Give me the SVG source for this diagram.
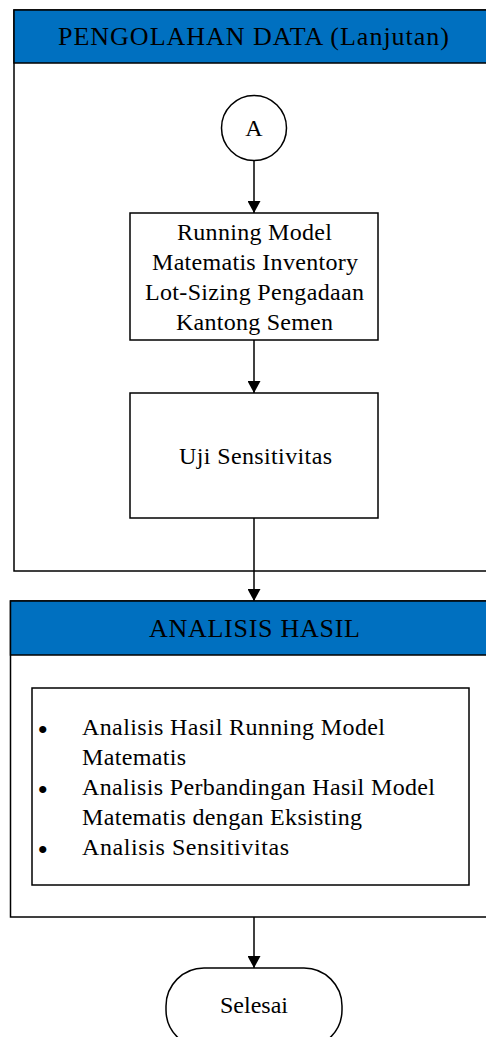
<svg xmlns="http://www.w3.org/2000/svg" width="486" height="1037" viewBox="0 0 486 1037">
  <style>
    .frame { fill: #ffffff; stroke: #000000; stroke-width: 1.5; }
    .band { fill: #0070C0; stroke: #000000; stroke-width: 1.5; }
    .box { fill: #ffffff; stroke: #000000; stroke-width: 1.5; }
    .t { font-family: "Liberation Serif", "Times New Roman", serif; fill: #000000; }
    .title { font-size: 26px; text-anchor: middle; }
    .lbl { font-size: 24px; text-anchor: middle; }
    .item { font-size: 24px; }
    .bullet { font-size: 30px; }
    .conn { stroke: #000000; stroke-width: 1.5; fill: none; marker-end: url(#arrow); }
  </style>
  <defs>
    <marker id="arrow" viewBox="0 0 12 13" refX="12" refY="6.5" markerWidth="12" markerHeight="13" markerUnits="userSpaceOnUse" orient="auto">
      <path d="M0,0 L12,6.5 L0,13 Z" fill="#000000"/>
    </marker>
  </defs>

  <rect width="486" height="1037" fill="#ffffff"/>

  <!-- Swimlane: PENGOLAHAN DATA (Lanjutan) -->
  <g id="lane-pengolahan">
    <rect class="frame" x="14" y="10" width="490" height="561"/>
    <rect class="band" x="14" y="10" width="490" height="53"/>
    <text class="t title" x="253.5" y="45" textLength="391" lengthAdjust="spacing">PENGOLAHAN DATA (Lanjutan)</text>
  </g>

  <!-- Swimlane: ANALISIS HASIL -->
  <g id="lane-analisis">
    <rect class="frame" x="10.5" y="601" width="490" height="316"/>
    <rect class="band" x="10.5" y="601" width="490" height="54"/>
    <text class="t title" x="254.5" y="637" textLength="211" lengthAdjust="spacing">ANALISIS HASIL</text>
  </g>

  <!-- Connector A -->
  <g id="node-a">
    <circle class="box" cx="254" cy="128" r="32.5"/>
    <text class="t lbl" x="254" y="136">A</text>
  </g>

  <!-- Running model -->
  <g id="node-running">
    <rect class="box" x="130" y="213" width="248" height="127"/>
    <text class="t lbl" x="254.5" y="240" textLength="155" lengthAdjust="spacing">Running Model</text>
    <text class="t lbl" x="255" y="270" textLength="206" lengthAdjust="spacing">Matematis Inventory</text>
    <text class="t lbl" x="254.5" y="300" textLength="219" lengthAdjust="spacing">Lot-Sizing Pengadaan</text>
    <text class="t lbl" x="254.5" y="330" textLength="157" lengthAdjust="spacing">Kantong Semen</text>
  </g>

  <!-- Sensitivity test -->
  <g id="node-uji">
    <rect class="box" x="130" y="393" width="248" height="125"/>
    <text class="t lbl" x="255.5" y="464" textLength="153" lengthAdjust="spacing">Uji Sensitivitas</text>
  </g>

  <!-- Analysis list -->
  <g id="node-analisis-list">
    <rect class="box" x="32" y="688" width="437" height="197"/>
    <text class="t bullet" x="37.5" y="740">•</text>
    <text class="t item" x="82" y="735" textLength="303" lengthAdjust="spacing">Analisis Hasil Running Model</text>
    <text class="t item" x="82" y="765" textLength="104" lengthAdjust="spacing">Matematis</text>
    <text class="t bullet" x="37.5" y="800">•</text>
    <text class="t item" x="82" y="795" textLength="353" lengthAdjust="spacing">Analisis Perbandingan Hasil Model</text>
    <text class="t item" x="82" y="825" textLength="280" lengthAdjust="spacing">Matematis dengan Eksisting</text>
    <text class="t bullet" x="37.5" y="860">•</text>
    <text class="t item" x="82" y="855" textLength="207" lengthAdjust="spacing">Analisis  Sensitivitas</text>
  </g>

  <!-- End terminator -->
  <g id="node-selesai">
    <rect class="box" x="166" y="968" width="176" height="80" rx="38" ry="38"/>
    <text class="t lbl" x="254" y="1012.5">Selesai</text>
  </g>

  <!-- Connectors -->
  <g id="connectors">
    <line class="conn" x1="254" y1="160.5" x2="254" y2="213"/>
    <line class="conn" x1="254" y1="340" x2="254" y2="393"/>
    <line class="conn" x1="254" y1="518" x2="254" y2="601"/>
    <line class="conn" x1="254" y1="917" x2="254" y2="968"/>
  </g>
</svg>
